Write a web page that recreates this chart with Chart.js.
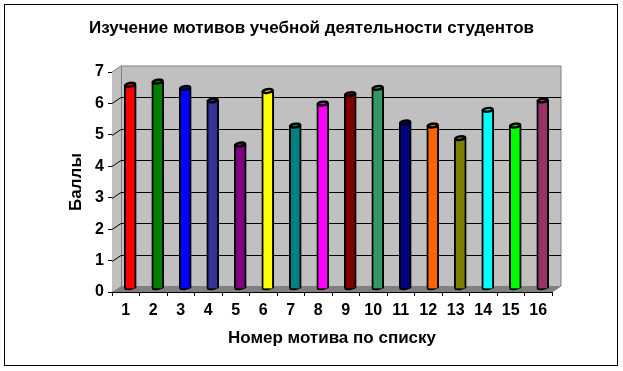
<!DOCTYPE html>
<html>
<head>
<meta charset="utf-8">
<style>html,body{margin:0;padding:0;background:#fff}canvas{display:block}</style>
<script src="https://cdn.jsdelivr.net/npm/chart.js@4/dist/chart.umd.min.js"></script>
</head>
<body>
<canvas id="c" width="623" height="371"></canvas>
<script>
const chartTitle = "Изучение мотивов учебной деятельности студентов";
const xTitle = "Номер мотива по списку";
const yTitle = "Баллы";
const categories = ["1","2","3","4","5","6","7","8","9","10","11","12","13","14","15","16"];
const values = [6.5,6.6,6.4,6.0,4.6,6.3,5.2,5.9,6.2,6.4,5.3,5.2,4.8,5.7,5.2,6.0];
const colors = ["#ff0000","#008000","#0000ff","#333399","#800080","#ffff00","#008080","#ff00ff","#800000","#339966","#000080","#ff6600","#808000","#00ffff","#00ff00","#993366"];
const yTicks = [0,1,2,3,4,5,6,7];

const FONT = "'Liberation Sans', Arial, sans-serif";
const DEPTH_X = 9, DEPTH_Y = -6;       // 3D depth of the box
const BAR_DX = 4.5, BAR_DY = -3;       // bars stand mid-depth

function shade(hex, k){
  const n = parseInt(hex.slice(1),16);
  const f = v => Math.round(v*k);
  return `rgb(${f(n>>16&255)},${f(n>>8&255)},${f(n&255)})`;
}

const box3d = {
  id:'box3d',
  beforeDraw(chart){
    const ctx = chart.ctx;
    ctx.save();
    ctx.fillStyle='#fff';
    ctx.fillRect(0,0,chart.width,chart.height);
    ctx.strokeStyle='#000';
    ctx.lineWidth=1;
    ctx.strokeRect(4.5,4.5,613,361);
    ctx.restore();
  },
  beforeDatasetsDraw(chart){
    const {ctx, chartArea:a, scales:{y}} = chart;
    const dx=DEPTH_X, dy=DEPTH_Y;
    ctx.save();
    // back wall + side wall
    ctx.fillStyle='#c0c0c0';
    ctx.fillRect(a.left+dx,a.top+dy,a.right-a.left,a.bottom-a.top);
    ctx.beginPath();
    ctx.moveTo(a.left,a.top);ctx.lineTo(a.left+dx,a.top+dy);
    ctx.lineTo(a.left+dx,a.bottom+dy);ctx.lineTo(a.left,a.bottom);ctx.closePath();
    ctx.fill();
    // floor
    ctx.fillStyle='#808080';
    ctx.beginPath();
    ctx.moveTo(a.left,a.bottom);ctx.lineTo(a.left+dx,a.bottom+dy);
    ctx.lineTo(a.right+dx,a.bottom+dy);ctx.lineTo(a.right,a.bottom);ctx.closePath();
    ctx.fill();
    // grey outlines
    ctx.strokeStyle='#808080';ctx.lineWidth=1;
    ctx.beginPath();
    ctx.moveTo(a.left,a.top);ctx.lineTo(a.left+dx,a.top+dy);
    ctx.lineTo(a.right+dx,a.top+dy);ctx.lineTo(a.right+dx,a.bottom+dy);ctx.lineTo(a.right,a.bottom);
    ctx.moveTo(a.left+dx+.5,a.top+dy);ctx.lineTo(a.left+dx+.5,a.bottom+dy);
    ctx.stroke();
    // gridlines
    ctx.strokeStyle='#000';ctx.lineWidth=1;
    ctx.lineJoin='miter';
    yTicks.slice(1,-1).forEach(v=>{
      const py=Math.round(y.getPixelForValue(v))+.5;
      ctx.beginPath();
      ctx.moveTo(a.left,py);ctx.lineTo(a.left+dx,py+dy);ctx.lineTo(a.right+dx,py+dy);
      ctx.stroke();
    });
    ctx.restore();
    ctx.save();
    ctx.translate(BAR_DX,BAR_DY);
    // rounded cylinder feet, under the bars
    ctx.fillStyle='#000';
    chart.getDatasetMeta(0).data.forEach(bar=>{
      ctx.beginPath();
      ctx.ellipse(bar.x,bar.base-.5,bar.width/2,2,-0.15,0,Math.PI*2);
      ctx.fill();
    });
  },
  afterDatasetsDraw(chart){
    const ctx=chart.ctx;
    chart.getDatasetMeta(0).data.forEach((bar,i)=>{
      const rx=bar.width/2-1;
      ctx.beginPath();
      ctx.ellipse(bar.x,bar.y,rx,1.8,-0.15,0,Math.PI*2);
      ctx.fillStyle=colors[i];
      ctx.fill();
      ctx.strokeStyle='#000';ctx.lineWidth=2.4;
      ctx.stroke();
    });
    ctx.restore();
  }
};

new Chart(document.getElementById('c'),{
  type:'bar',
  plugins:[box3d],
  data:{labels:categories,datasets:[{
    data:values,
    clip:false,
    barThickness:12,
    borderWidth:2,
    borderColor:'#000',
    backgroundColor(ctx){
      const c=colors[ctx.dataIndex];
      const s=ctx.chart.scales.x;
      if(!s||ctx.dataIndex===undefined) return c||'#000';
      const x=s.getPixelForValue(ctx.dataIndex)+BAR_DX;
      if(!Number.isFinite(x)) return c;
      const g=ctx.chart.ctx.createLinearGradient(x-5,0,x+5,0);
      g.addColorStop(0,c);g.addColorStop(.55,c);g.addColorStop(1,shade(c,.82));
      return g;
    }
  }]},
  options:{
    responsive:false,
    animation:false,
    layout:{padding:0},
    plugins:{
      legend:{display:false},
      tooltip:{enabled:false},
      title:{display:true,text:chartTitle,color:'#000',
        font:{family:FONT,size:17,weight:'bold',lineHeight:1.2},
        padding:{top:18,bottom:33.6}}
    },
    scales:{
      x:{
        offset:true,
        grid:{offset:true,drawOnChartArea:false,drawTicks:true,tickLength:4,color:'#000'},
        border:{display:true,color:'#000',width:1},
        ticks:{color:'#000',padding:5,autoSkip:false,maxRotation:0,font:{family:FONT,size:16,weight:'bold'}},
        title:{display:true,text:xTitle,color:'#000',font:{family:FONT,size:17,weight:'bold'},padding:{top:22,bottom:22}},
        afterFit(s){s.height=79;}
      },
      y:{
        min:0,max:7,
        afterBuildTicks(s){s.ticks=yTicks.map(v=>({value:v}));},
        grid:{drawOnChartArea:false,drawTicks:true,tickLength:4,color:'#000'},
        border:{display:true,color:'#000',width:1},
        ticks:{color:'#000',padding:4,font:{family:FONT,size:16,weight:'bold'}},
        title:{display:true,text:yTitle,color:'#000',font:{family:FONT,size:17,weight:'bold'},padding:{top:66,bottom:66}},
        afterFit(s){s.width=112;}
      },
      y2:{
        axis:'y',position:'right',min:0,max:7,
        grid:{display:false},border:{display:false},ticks:{display:false},
        afterFit(s){s.width=71;}
      }
    }
  }
});
</script>
</body>
</html>
